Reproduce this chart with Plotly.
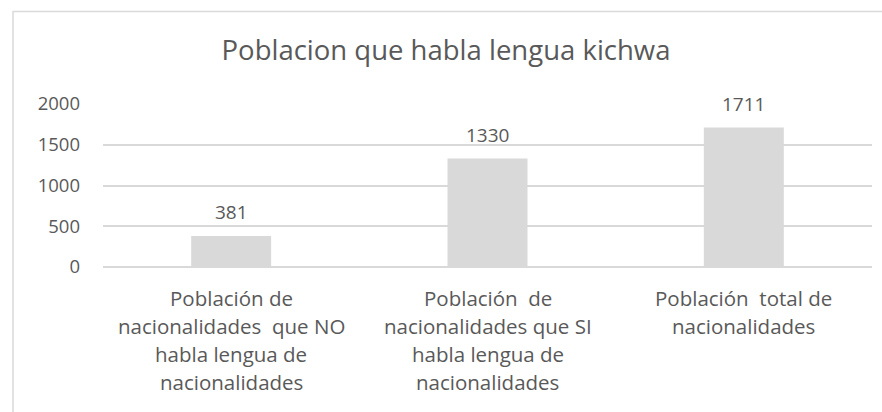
import plotly.graph_objects as go

# Datos del gráfico
categorias = [
    "Población de\nnacionalidades  que NO\nhabla lengua de\nnacionalidades",
    "Población  de\nnacionalidades que SI\nhabla lengua de\nnacionalidades",
    "Población  total de\nnacionalidades",
]
valores = [381, 1330, 1711]
ticks_y = [0, 500, 1000, 1500, 2000]
titulo = "Poblacion que habla lengua kichwa"

# Lienzo y márgenes (px)
W, H = 882, 412
L, R, T, B = 103, 10, 104, 145
PW, PH = W - L - R, H - T - B

GRIS_TEXTO = "#595959"
GRIS_LINEA = "#d9d9d9"
FUENTE = "Open Sans"


def px_x(px):
    return (px - L) / PW


def px_y(py):
    return (H - B - py) / PH


fig = go.Figure(
    go.Bar(
        x=categorias,
        y=valores,
        marker=dict(color=GRIS_LINEA, line=dict(width=0)),
        hoverinfo="skip",
    )
)

anotaciones = []
# Etiquetas de valor sobre cada barra
for c, v in zip(categorias, valores):
    anotaciones.append(dict(
        x=c, y=v, xref="x", yref="y", text=str(v), showarrow=False,
        yanchor="bottom", yshift=9,
        font=dict(family=FUENTE, size=19, color=GRIS_TEXTO),
    ))

# Etiquetas de categoría, una línea por anotación
for c in categorias:
    for i, linea in enumerate(c.split("\n")):
        anotaciones.append(dict(
            x=c, y=0, xref="x", yref="y", text=linea, showarrow=False,
            yanchor="middle", yshift=-(31 + i * 28),
            font=dict(family=FUENTE, size=20.5, color=GRIS_TEXTO),
        ))

# Marco del área del gráfico (borde superior e izquierdo)
marco = [
    dict(type="line", xref="paper", yref="paper",
         x0=px_x(13), x1=px_x(13), y0=px_y(11), y1=px_y(H + 5),
         line=dict(color=GRIS_LINEA, width=1.5)),
    dict(type="line", xref="paper", yref="paper",
         x0=px_x(13), x1=px_x(W + 5), y0=px_y(11.5), y1=px_y(11.5),
         line=dict(color=GRIS_LINEA, width=1.5)),
]

fig.update_layout(
    width=W, height=H,
    margin=dict(l=L, r=R, t=T, b=B, pad=0),
    paper_bgcolor="white", plot_bgcolor="white",
    showlegend=False,
    bargap=0.688,
    title=dict(
        text=titulo, x=446 / W, xref="container", xanchor="center",
        y=1 - 50 / H, yref="container", yanchor="middle",
        font=dict(family=FUENTE, size=27.5, color=GRIS_TEXTO),
    ),
    font=dict(family=FUENTE, color=GRIS_TEXTO),
    annotations=anotaciones,
    shapes=marco,
)

fig.update_xaxes(
    showticklabels=False, showgrid=False, showline=False, zeroline=False,
    ticks="",
)
fig.update_yaxes(
    range=[0, 2000], tickvals=ticks_y, ticktext=[str(t) for t in ticks_y],
    showgrid=True, gridcolor=GRIS_LINEA, gridwidth=1.5,
    zeroline=True, zerolinecolor=GRIS_LINEA, zerolinewidth=1.5,
    showline=False, ticks="", ticklabelstandoff=22,
    tickfont=dict(family=FUENTE, size=18.5, color=GRIS_TEXTO),
)

fig.write_html("out.html")
